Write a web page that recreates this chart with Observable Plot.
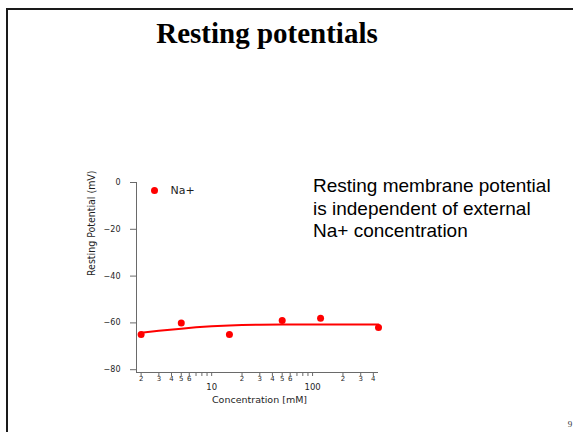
<!DOCTYPE html>
<html>
<head>
<meta charset="utf-8">
<script src="https://cdn.jsdelivr.net/npm/d3@7"></script>
<script src="https://cdn.jsdelivr.net/npm/@observablehq/plot@0.6"></script>
<style>
  html, body { margin: 0; padding: 0; background: #fff; }
  #page { position: relative; width: 573px; height: 432px; overflow: hidden; }
  #page > svg.overlay { position: absolute; left: 0; top: 0; pointer-events: none; }
  #chart { position: absolute; left: 0; top: 0; }
</style>
</head>
<body>
<div id="page">
  <div id="chart"></div>
  <svg class="overlay" width="573" height="432">
    <rect x="6" y="8" width="2" height="424" fill="#1a1a1a"></rect>
    <rect x="6" y="8" width="567" height="2" fill="#1a1a1a"></rect>
    <text x="267" y="43" text-anchor="middle" font-family="'Liberation Serif', 'Times New Roman', serif" font-weight="bold" font-size="29" fill="#000">Resting potentials</text>
    <text x="313" y="192" font-family="'Liberation Sans', Arial, sans-serif" font-size="19" fill="#000">Resting membrane potential</text>
    <text x="313" y="215" font-family="'Liberation Sans', Arial, sans-serif" font-size="19" fill="#000">is independent of external</text>
    <text x="313" y="237" font-family="'Liberation Sans', Arial, sans-serif" font-size="19" fill="#000">Na+ concentration</text>
    <text x="570" y="427" text-anchor="middle" font-family="'Liberation Serif', 'Times New Roman', serif" font-size="9" fill="#333">9</text>
  </svg>
</div>
<script>
// Measured data (external Na+ concentration, mM -> resting potential, mV)
const naConc = [2, 5, 15, 50, 120, 450];
const restingMV = [-65, -60, -65, -59, -58, -62];

// Fitted curve
const fitConc = [2, 3, 5, 7, 10, 15, 20, 30, 50, 100, 200, 450];
const fitMV = [-64.2, -63.4, -62.5, -61.9, -61.4, -61.1, -60.9, -60.8, -60.7, -60.7, -60.7, -60.7];

// Axes
const xDomain = [1.8, 450];
const yDomain = [-81.2, 0];
const yTicks = [0, -20, -40, -60, -80];
const xAllTicks = [2, 3, 4, 5, 6, 7, 8, 9, 10, 20, 30, 40, 50, 60, 70, 80, 90, 100, 200, 300, 400];
const xMinorLabelTicks = [2, 3, 4, 5, 6, 20, 30, 40, 50, 60, 200, 300, 400];
const xMinorLabels = ["2", "3", "4", "5", "6", "2", "3", "4", "5", "6", "2", "3", "4"];
const xMajorTicks = [10, 100];
const xMajorLabels = ["10", "100"];

const xLabel = "Concentration [mM]";
const yLabel = "Resting Potential (mV)";
const seriesName = "Na+";

const points = naConc.map((c, i) => ({c, v: restingMV[i]}));
const fit = fitConc.map((c, i) => ({c, v: fitMV[i]}));
const minorLabelData = xMinorLabelTicks.map((t, i) => ({t, label: xMinorLabels[i]}));
const majorLabelData = xMajorTicks.map((t, i) => ({t, label: xMajorLabels[i]}));

const axisColor = "#6a6a6a";
const textColor = "#1e1e1e";

const chart = Plot.plot({
  width: 573,
  height: 432,
  marginLeft: 136,
  marginRight: 195,
  marginTop: 182,
  marginBottom: 60,
  style: {background: "transparent", fontFamily: "'DejaVu Sans', Verdana, sans-serif", color: textColor, overflow: "visible"},
  x: {type: "log", domain: xDomain},
  y: {domain: yDomain},
  marks: [
    Plot.ruleX([xDomain[0]], {stroke: axisColor, strokeWidth: 1}),
    Plot.ruleY([yDomain[0]], {stroke: axisColor, strokeWidth: 1}),
    Plot.axisY({ticks: yTicks, tickSize: 6, tickPadding: 10, fontSize: 8, label: null, stroke: axisColor, fill: textColor}),
    Plot.axisX({ticks: xAllTicks, tickSize: 4, tickFormat: () => "", label: null, stroke: axisColor}),
    Plot.text(minorLabelData, {x: "t", text: "label", frameAnchor: "bottom", dy: 6.5, fontSize: 7, lineAnchor: "middle", fill: textColor}),
    Plot.text(majorLabelData, {x: "t", text: "label", frameAnchor: "bottom", dy: 15, fontSize: 8.5, lineAnchor: "middle", fill: textColor}),
    Plot.text([xLabel], {frameAnchor: "bottom", dx: 2, dy: 27, fontSize: 9.5, lineAnchor: "middle", fill: textColor}),
    Plot.text([yLabel], {frameAnchor: "left", dx: -45, dy: -1.5, rotate: -90, fontSize: 10.5, lineAnchor: "middle",
      fontFamily: "'Liberation Sans Narrow', 'DejaVu Sans Condensed', 'Liberation Sans', sans-serif", fill: textColor}),
    Plot.line(fit, {x: "c", y: "v", stroke: "#ff0000", strokeWidth: 2}),
    Plot.dot(points, {x: "c", y: "v", r: 3.5, fill: "#ff0000", stroke: "none"}),
    Plot.dot([seriesName], {frameAnchor: "top-left", dx: 18, dy: 8, r: 3.5, fill: "#ff0000", stroke: "none"}),
    Plot.text([seriesName], {frameAnchor: "top-left", dx: 34, dy: 7.5, textAnchor: "start", lineAnchor: "middle", fontSize: 11, fill: textColor})
  ]
});
document.getElementById("chart").appendChild(chart);
</script>
</body>
</html>
